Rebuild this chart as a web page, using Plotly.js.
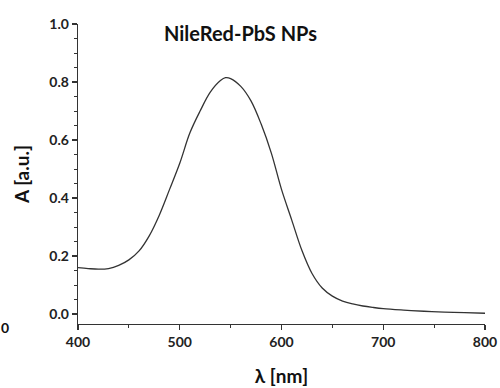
<!DOCTYPE html>
<html><head><meta charset="utf-8">
<script src="https://cdn.plot.ly/plotly-3.0.1.min.js"></script>
<style>html,body{margin:0;padding:0;background:#fff}#c{width:500px;height:388px}</style>
</head><body><div id="c"></div>
<script>
const wavelength = [400,410,420,430,440,450,460,470,480,490,500,510,520,530,540,545,550,560,570,580,590,600,610,620,630,640,650,660,670,680,690,700,720,740,760,780,800];
const absorbance = [0.160,0.157,0.155,0.157,0.168,0.187,0.218,0.270,0.342,0.430,0.520,0.625,0.700,0.765,0.805,0.815,0.812,0.785,0.735,0.655,0.555,0.430,0.325,0.220,0.140,0.090,0.062,0.045,0.035,0.028,0.023,0.019,0.014,0.010,0.007,0.005,0.003];
const xTicks = [400,500,600,700,800];
const yTicks = [0,0.2,0.4,0.6,0.8,1.0];
const yTickText = ["0.0","0.2","0.4","0.6","0.8","1.0"];

const FONT = "Lato, 'Open Sans', sans-serif";
const tickFont = {family:FONT, size:14, color:"#222", weight:"bold"};
const trace = {x:wavelength, y:absorbance, type:"scatter", mode:"lines", line:{color:"#333", width:1.3, shape:"spline"}};
const layout = {
  width:500, height:388,
  margin:{l:78, r:15, t:24, b:64},
  paper_bgcolor:"#fff", plot_bgcolor:"#fff",
  showlegend:false,
  xaxis:{range:[400,800], tickvals:xTicks, ticks:"outside", ticklen:5, tickwidth:1.3, tickcolor:"#333",
    showline:true, linecolor:"#333", linewidth:1.3, showgrid:false, zeroline:false,
    minor:{dtick:50, tick0:400, ticks:"outside", ticklen:3, tickcolor:"#333", tickwidth:1},
    tickfont:tickFont,
    title:{text:"<b>λ [nm]</b>", font:{family:FONT, size:19, color:"#111"}, standoff:20}},
  yaxis:{range:[-0.034,1.0], tickvals:yTicks, ticktext:yTickText, ticks:"outside", ticklen:5, tickwidth:1.3, tickcolor:"#333",
    showline:true, linecolor:"#333", linewidth:1.3, showgrid:false, zeroline:false,
    minor:{dtick:0.05, tick0:0, ticks:"outside", ticklen:3, tickcolor:"#333", tickwidth:1},
    tickfont:tickFont,
    title:{text:"<b>A [a.u.]</b>", font:{family:FONT, size:19, color:"#111"}, standoff:14}},
  annotations:[
    {text:"<b>NileRed-PbS NPs</b>", xref:"paper", yref:"paper", x:0.4, y:0.97, yanchor:"middle", showarrow:false,
     font:{family:FONT, size:20, color:"#111"}},
    {text:"<b>0</b>", xref:"paper", yref:"paper", x:-0.195, y:-0.045, xanchor:"left", showarrow:false,
     font:{family:FONT, size:14, color:"#111"}}
  ]
};
Plotly.newPlot("c",[trace],layout,{staticPlot:true, displayModeBar:false});
</script></body></html>
